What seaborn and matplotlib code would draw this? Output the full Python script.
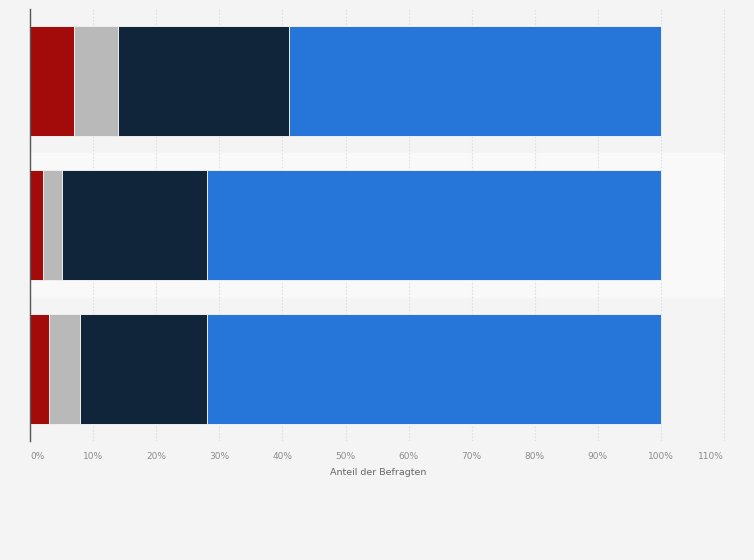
import matplotlib
matplotlib.use("Agg")
import matplotlib.pyplot as plt
import seaborn as sns
import pandas as pd
import numpy as np

# Data (share of respondents, %)
categories = ["Gruppe 1", "Gruppe 2", "Gruppe 3"]
seg_red = [7, 2, 3]
seg_gray = [7, 3, 5]
seg_navy = [27, 23, 20]
seg_blue = [59, 72, 72]
x_ticks = [0, 10, 20, 30, 40, 50, 60, 70, 80, 90, 100, 110]
x_label = "Anteil der Befragten"

colors = ["#a30b0b", "#b9b9b9", "#10253a", "#2675d9"]
segments = [seg_red, seg_gray, seg_navy, seg_blue]

sns.set_theme(style="white")
plt.rcParams['font.family'] = ['DejaVu Sans']

fig = plt.figure(figsize=(7.54, 5.60), dpi=100, facecolor="#f4f4f4")
ax = fig.add_axes([30/754, 1-441/560, 696/754, 432/560])
ax.set_facecolor("#f4f4f4")

# alternating row band
ax.axhspan(0.5, 1.5, color="#f9f9f9", zorder=0)

cum = np.cumsum(np.array(segments), axis=0)
# draw from largest cumulative to smallest so segments show stacked
for i in range(len(segments) - 1, -1, -1):
    df = pd.DataFrame({"cat": categories, "val": cum[i]})
    sns.barplot(data=df, x="val", y="cat", orient="h", color=colors[i],
                saturation=1, width=0.77, edgecolor="#eeeeee", linewidth=0.7,
                ax=ax, zorder=3)

ax.set_xlim(0, 110.3)
ax.set_ylim(2.5, -0.5)
ax.set_xticks(x_ticks)
labels = [f"{t}%" for t in x_ticks]
ax.set_xticklabels(labels, fontsize=6.5, color="#8c8c8c")
tl = ax.get_xticklabels()
tl[0].set_ha("left")
tl[-1].set_ha("right")
ax.tick_params(axis="x", length=0, pad=8)
ax.set_yticks([0, 1, 2])
ax.set_yticklabels([])
ax.tick_params(axis="y", length=0)
ax.set_ylabel("")
ax.set_xlabel(x_label, fontsize=6.8, color="#666666", labelpad=5)

ax.grid(axis="x", color="#e0e0e0", linestyle=(0, (1.5, 1.5)), linewidth=0.8, zorder=1)
ax.set_axisbelow(True)
for s in ["top", "right", "bottom"]:
    ax.spines[s].set_visible(False)
ax.spines["left"].set_color("#555555")
ax.spines["left"].set_linewidth(1.0)
ax.spines["left"].set_zorder(5)

fig.savefig("out.png", dpi=100, facecolor=fig.get_facecolor())
